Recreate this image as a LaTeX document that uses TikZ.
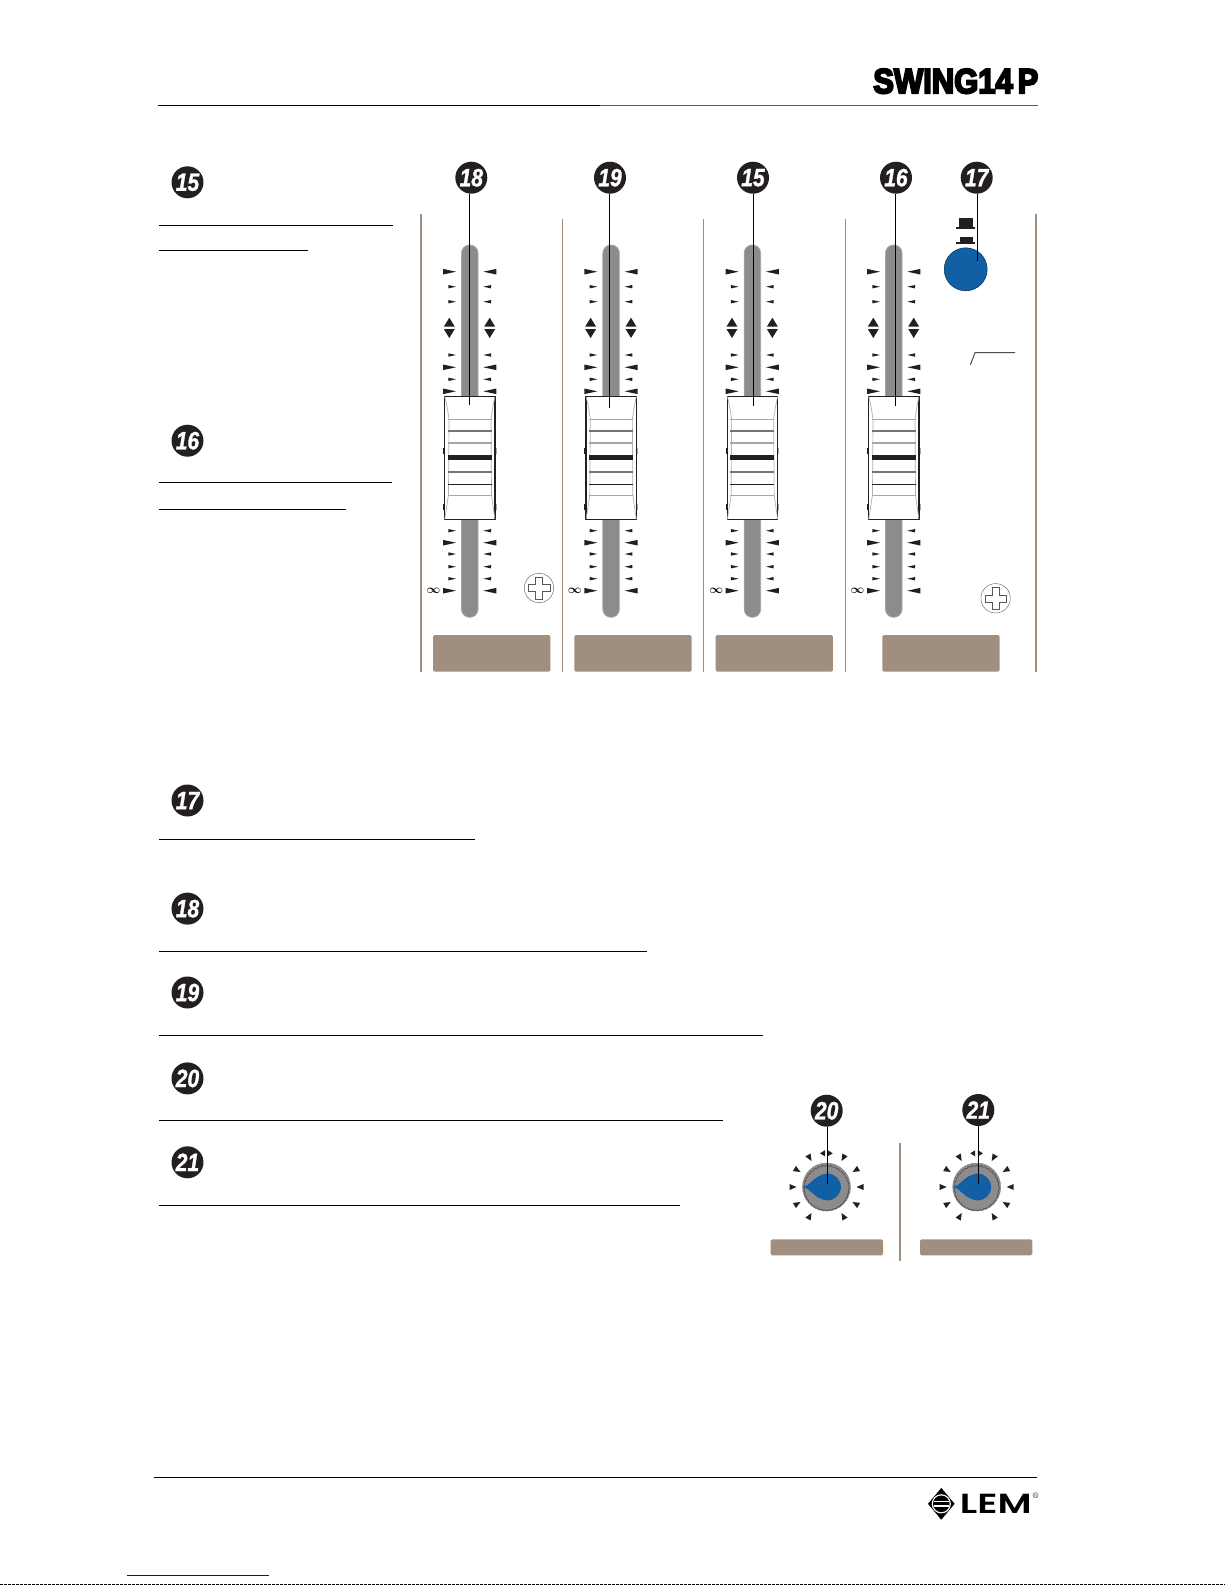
\documentclass[tikz,border=0pt]{standalone}
\usepackage{fontspec}
\usepackage{graphicx}
\usepackage{xcolor}
\usepackage{tikz}
\usetikzlibrary{shapes.geometric}
\usetikzlibrary{decorations.pathmorphing}
\newfontfamily\badgefont[FakeStretch=.84,FakeBold=1.2]{Liberation Sans Bold Italic}
\newfontfamily\brandfont[FakeBold=6]{Liberation Sans Bold}
\newfontfamily\logofont{Poppins SemiBold}
\definecolor{panelbrown}{HTML}{A08F7E}
\definecolor{knobblue}{HTML}{1160A6}
\definecolor{inkblack}{HTML}{231F20}
\definecolor{trackgray}{HTML}{8C8C8C}
\tikzstyle{badge} = [circle, fill=inkblack, minimum size=32pt, inner sep=0pt, text=white, font=\badgefont\fontsize{25}{25}\selectfont]
\tikzstyle{leader} = [black, line width=1.2pt]
\tikzstyle{textrule} = [black, line width=1.2pt]
\tikzstyle{panelline} = [panelbrown, line width=1pt]
\tikzstyle{panelbar} = [fill=panelbrown, rounded corners=1.5pt]
\tikzstyle{capline} = [line width=1pt]
\tikzstyle{screwline} = [draw=black!65, fill=white, line width=0.4pt]
\newcommand{\tickpair}[3]{%
  \fill[inkblack] (456-#3,#1-#2) -- (456,#1) -- (456-#3,#1+#2) -- cycle;
  \fill[inkblack] (483.3+#3,#1-#2) -- (483.3,#1) -- (483.3+#3,#1+#2) -- cycle;
}
\newcommand{\screwhead}[2]{%
  \draw[screwline] (#1,#2) circle (14.7);
  \draw[screwline] (#1-3.5,#2-10.7) -- (#1+3.5,#2-10.7) -- (#1+3.5,#2-3.5) -- (#1+10.7,#2-3.5) -- (#1+10.7,#2+3.5) -- (#1+3.5,#2+3.5) -- (#1+3.5,#2+10.7) -- (#1-3.5,#2+10.7) -- (#1-3.5,#2+3.5) -- (#1-10.7,#2+3.5) -- (#1-10.7,#2-3.5) -- (#1-3.5,#2-3.5) -- cycle;
}
\begin{document}
\begin{tikzpicture}[x=1pt,y=-1pt]
        \useasboundingbox (0,0) rectangle (1225,1585);
        % Header
        \draw[black, line width=1pt] (158,105.7) -- (600,105.7);
        \draw[black!65, line width=1.4pt] (600,105.7) -- (1038.3,105.7);
        \node[inner sep=0pt] (brand) at (955.8,81.2) {\resizebox{165pt}{24.3pt}{\brandfont SWING14\kern-.12em\ P}};
        % Panel lines
        \draw[panelline, line width=2pt] (421,214) -- (421,672);
        \foreach \lx in {562.3,703.6,845} {
            \draw[panelline] (\lx,219) -- (\lx,672);
        }
        \draw[panelline, line width=2pt] (1035.7,214) -- (1035.7,672);
        % Label bars
        \foreach \bx in {433,574.3,715.6,882.3} {
            \fill[panelbar] (\bx,635) rectangle (\bx+117.3,671.7);
        }
        % Faders
        \foreach \i in {0,1,2,3} {
            \begin{scope}[shift={(\i*141.33,0)}]
                \foreach \ty in {271.7,367.3,391.3,542.7,590.7} {
                    \tickpair{\ty}{2.8}{13}
                }
                \foreach \ty in {286.7,301.7,355,379.3,530.7,554,566.7,578.7} {
                    \tickpair{\ty}{1.7}{7.7}
                }
                \foreach \tx in {449.3,489.7} {
                    \fill[inkblack] (\tx-5.5,326.7) -- (\tx,317.7) -- (\tx+5.5,326.7) -- cycle;
                    \fill[inkblack] (\tx-5.5,329) -- (\tx,338) -- (\tx+5.5,329) -- cycle;
                }
                \node[inner sep=0pt, font=\fontsize{12}{12}\selectfont\boldmath] (inf\i) at (433.5,590.7) {$\infty$};
                \draw[fill=trackgray, draw=black!35, line width=0.7pt, rounded corners=8pt] (461.5,245) rectangle (478,617.3);
                % tabs
                \fill[inkblack] (443,448) rectangle (444.7,453.5);
                \fill[inkblack] (443,504) rectangle (444.7,509.5);
                \fill[black!35] (495,448) rectangle (496.5,453.5);
                \fill[black!35] (495,504) rectangle (496.5,509.5);
                % cap
                \draw[fill=white, draw=inkblack, line width=1.1pt] (444.7,396.7) rectangle (495,519.3);
                \draw[black!30, line width=0.7pt] (444.7,396.7) .. controls (447,405) and (448,412) .. (449,419.3) -- (448.5,495) -- (444.7,519.3);
                \draw[black!30, line width=0.7pt] (495,396.7) .. controls (493,405) and (492,412) .. (491,419.3) -- (491.5,495) -- (495,519.3);
                \draw[black!35, capline] (447.7,419.3) -- (491.7,419.3);
                \draw[black!55, line width=1.7pt] (447.7,431) -- (491.7,431);
                \draw[black!35, line width=1.7pt] (447.7,442.7) -- (491.7,442.7);
                \draw[inkblack, line width=4.5pt] (447.7,457.7) -- (491.7,457.7);
                \draw[black!55, line width=1.7pt] (447.7,472.3) -- (491.7,472.3);
                \draw[inkblack, capline] (447.7,484.3) -- (491.7,484.3);
                \draw[black!35, capline] (447.7,495.7) -- (491.7,495.7);
            \end{scope}
        }
        % Switch
        \fill[inkblack] (959,218.3) rectangle (973.3,227.3);
        \fill[inkblack] (956,227.3) rectangle (975,229);
        \fill[inkblack] (960,237.3) rectangle (972.7,242.3);
        \fill[inkblack] (956,242.3) rectangle (975,244);
        \draw[fill=knobblue, draw=black!50!knobblue, line width=0.5pt] (965.7,269.3) circle (21.5);
        \draw[black!70, line width=1pt] (970.3,365) -- (975,352.7) -- (1015,352.7);
        % Screws
        \screwhead{539}{588}
        \screwhead{995.6}{598.3}
        % Channel numbers
        \foreach \num/\bx/\lx/\ly in {18/471.3/469.5/405, 19/610/609.5/408, 15/753/753.5/406, 16/896/895.5/406, 17/976.7/977.5/260.7} {
            \node[badge] (b\num) at (\bx,177.7) {\num};
            \coordinate (e\num) at (\lx,\ly);
            \draw[leader] (b\num.south -| e\num) -- (e\num);
        }
        % Rotary controls
        \foreach \kx/\lx/\bx/\by/\num in {826.5/827.5/826.7/1110.7/20, 976.7/978.5/978.3/1110/21} {
            \foreach \a in {0,30,60,120,150,180,210,240,300,330} {
                \fill[inkblack, shift={(\kx,1187)}, rotate=\a] (30,0) -- (37,-3) -- (37,3) -- cycle;
            }
            \fill[inkblack] (\kx-6.5,1153.3) -- (\kx-1.5,1150.2) -- (\kx-1.5,1156.4) -- cycle;
            \fill[inkblack] (\kx+1.2,1150.2) -- (\kx+6.2,1153.3) -- (\kx+1.2,1156.4) -- cycle;
            \draw[fill=trackgray, draw=black!50, line width=0.4pt] (\kx,1187) circle (24);
            \draw[black!70, line width=0.6pt, decorate, decoration={snake, segment length=4.2pt, amplitude=0.6pt}] (\kx,1187) circle (22.3);
            \fill[knobblue] (\kx+1,1187) circle (13.4);
            \fill[knobblue] (\kx-24,1187) .. controls (\kx-16,1185.5) and (\kx-14,1178) .. (\kx-5,1175.1) -- (\kx-5,1198.9) .. controls (\kx-14,1196) and (\kx-16,1188.5) .. (\kx-24,1187) -- cycle;
            \node[badge] (b\num) at (\bx,\by) {\num};
            \coordinate (e\num) at (\lx,1184);
            \draw[leader] (b\num.south -| e\num) -- (e\num);
        }
        \draw[panelline, line width=2pt] (900,1143.3) -- (900,1260.7);
        \fill[panelbar] (770.7,1239.3) rectangle (883,1255.3);
        \fill[panelbar] (920,1239.3) rectangle (1032.3,1255.3);
        % Text column
        \foreach \num/\by in {15/182.3, 16/440.7, 17/800.5, 18/908.6, 19/992.5, 20/1078.4, 21/1162.3} {
            \node[badge] (t\num) at (187.5,\by) {\num};
        }
        \foreach \ry/\rx in {225.5/392.7, 250.5/307.7, 482.5/392.2, 509.5/345.7, 839.5/475, 951.5/646.8, 1035.5/763, 1120.5/722.7, 1205.5/680} {
            \draw[textrule] (159,\ry) -- (\rx,\ry);
        }
        % Footer
        \draw[black, line width=1.2pt] (153.6,1477.3) -- (1037.3,1477.3);
        \node[diamond, fill=black, draw=black, line width=0.6pt, minimum width=26pt, minimum height=31pt, inner sep=0pt] (logomark) at (941.3,1503.8) {};
        \fill[white] (logomark.center) circle (9.6);
        \fill[black] (logomark.center) circle (8.3);
        \draw[white, line width=1.2pt] (933.8,1501.6) -- (948.8,1501.6);
        \draw[white, line width=1.2pt] (933.8,1506) -- (948.8,1506);
        \node[inner sep=0pt] (logoname) at (995.8,1503.6) {\resizebox{71.7pt}{19.3pt}{\logofont LEM}};
        \node[inner sep=0pt, font=\fontsize{8}{8}\selectfont] (logoreg) at (1035.5,1495.5) {\textregistered};
        % Bottom edge
        \draw[blue, line width=1pt] (127,1575.3) -- (269,1575.3);
        \draw[black, line width=1pt, dash pattern=on 3pt off 1pt] (0,1584.4) -- (1225,1584.4);
\end{tikzpicture}
\end{document}
